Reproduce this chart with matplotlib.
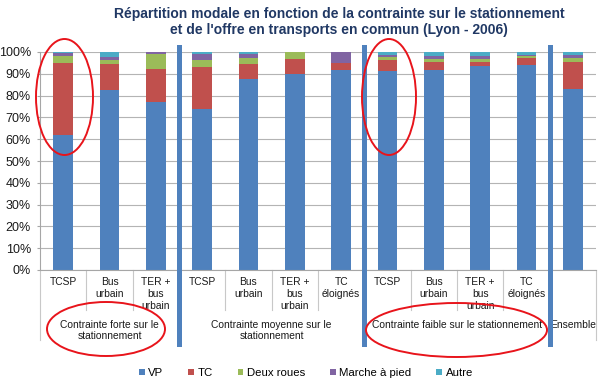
import matplotlib.pyplot as plt
import numpy as np
from matplotlib.patches import Ellipse
from matplotlib.lines import Line2D

plt.rcParams['font.family'] = ['Liberation Sans', 'DejaVu Sans']

# data (percent)
categories = ['TCSP', 'Bus\nurbain', 'TER +\nbus\nurbain',
              'TCSP', 'Bus\nurbain', 'TER +\nbus\nurbain', 'TC\néloignés',
              'TCSP', 'Bus\nurbain', 'TER +\nbus\nurbain', 'TC\néloignés',
              '']
groups = ['Contrainte forte sur le\nstationnement',
          'Contrainte moyenne sur le\nstationnement',
          'Contrainte faible sur le stationnement',
          'Ensemble']
group_sizes = [3, 4, 4, 1]

vp = [62, 82.5, 77, 74, 87.6, 90, 91.7, 91.4, 91.7, 93.7, 94, 83.2]
tc = [33, 12, 15, 19, 7, 7, 3.1, 4.9, 3.9, 1.9, 3.1, 12.1]
deux_roues = [3, 2, 7.3, 3.5, 2.8, 3, 0.2, 1.6, 1, 1.3, 1.2, 1.8]
marche = [1.5, 1, 0.7, 2.8, 1.5, 0, 5, 0.7, 1.7, 1.3, 0.5, 1.5]
autre = [0.5, 2.5, 0, 0.7, 1.1, 0, 0, 1.4, 1.7, 1.8, 1.2, 1.4]

series = [('VP', vp, '#4F81BD'), ('TC', tc, '#C0504D'),
          ('Deux roues', deux_roues, '#9BBB59'),
          ('Marche à pied', marche, '#8064A2'), ('Autre', autre, '#4BACC6')]

W, H = 605, 385
fig = plt.figure(figsize=(W / 100, H / 100), dpi=100)
ax = fig.add_axes([40 / W, 115 / H, 556 / W, 218 / H])

x = np.arange(len(vp))
bottom = np.zeros(len(vp))
handles = []
for name, vals, col in series:
    v = np.array(vals) / 100
    b = ax.bar(x, v, 0.43, bottom=bottom, color=col, label=name, zorder=2)
    handles.append(b)
    bottom += v

ax.set_xlim(-0.5, len(vp) - 0.5)
ax.set_ylim(0, 1)
ax.set_yticks(np.arange(0, 1.01, 0.1))
ax.set_yticklabels([f'{int(round(t * 100))}%' for t in np.arange(0, 1.01, 0.1)])
ax.tick_params(axis='y', labelsize=9, length=2.5, color='#A6A6A6', pad=4,
               labelcolor='#1a1a1a')
ax.set_xticks([])
ax.yaxis.grid(True, color='#B4B4B4', lw=0.8, zorder=0)
ax.set_axisbelow(True)
for s in ['top', 'right']:
    ax.spines[s].set_visible(False)
ax.spines['left'].set_color('#A6A6A6')
ax.spines['bottom'].set_color('#A6A6A6')

tr = ax.get_xaxis_transform()
# category labels
for i, lab in enumerate(categories):
    ax.text(i, -0.03, lab, transform=tr, ha='center', va='top', fontsize=7.4,
            color='#1a1a1a', linespacing=1.25)

# boundary lines and group labels
edges = np.cumsum([0] + group_sizes) - 0.5
for k in range(1, len(vp)):
    xb = k - 0.5
    if xb in edges:
        continue
    ax.add_line(Line2D([xb, xb], [0, -0.185], transform=tr, color='#C8C8C8',
                       lw=0.8, clip_on=False))
for xb in [edges[0], edges[-1]]:
    ax.add_line(Line2D([xb, xb], [0, -0.32], transform=tr, color='#C8C8C8',
                       lw=0.8, clip_on=False))
for xb in edges[1:-1]:
    ax.add_line(Line2D([xb, xb], [-0.34, 1.025], transform=tr, color='#4F81BD',
                       lw=3.6, clip_on=False, zorder=5))
for g, (a, b) in zip(groups, zip(edges[:-1], edges[1:])):
    ax.text((a + b) / 2, -0.23, g, transform=tr, ha='center', va='top',
            fontsize=7.4, color='#1a1a1a', linespacing=1.15)

# title
fig.text(339 / W, 1 - 14 / H,
         'Répartition modale en fonction de la contrainte sur le stationnement',
         ha='center', va='center', fontsize=10, fontweight='bold', color='#203864')
fig.text(339 / W, 1 - 30 / H,
         "et de l'offre en transports en commun (Lyon - 2006)",
         ha='center', va='center', fontsize=10, fontweight='bold', color='#203864')

fig.legend(handles=handles, loc='center', bbox_to_anchor=(306 / W, 1 - 373 / H),
           ncol=5, frameon=False, fontsize=8.2, handlelength=0.5, handleheight=0.5,
           handletextpad=0.3, columnspacing=2.2)

# red hand-drawn ellipses
for cx, cy, ew, eh in [(64.5, 97, 57, 116), (106, 329, 118, 54),
                       (389, 97, 54, 116), (456.5, 330, 181, 54)]:
    fig.patches.append(Ellipse((cx / W, 1 - cy / H), ew / W, eh / H,
                               transform=fig.transFigure, fill=False,
                               ec='#E8141B', lw=1.4, zorder=10))

fig.savefig('out.png', dpi=100)
